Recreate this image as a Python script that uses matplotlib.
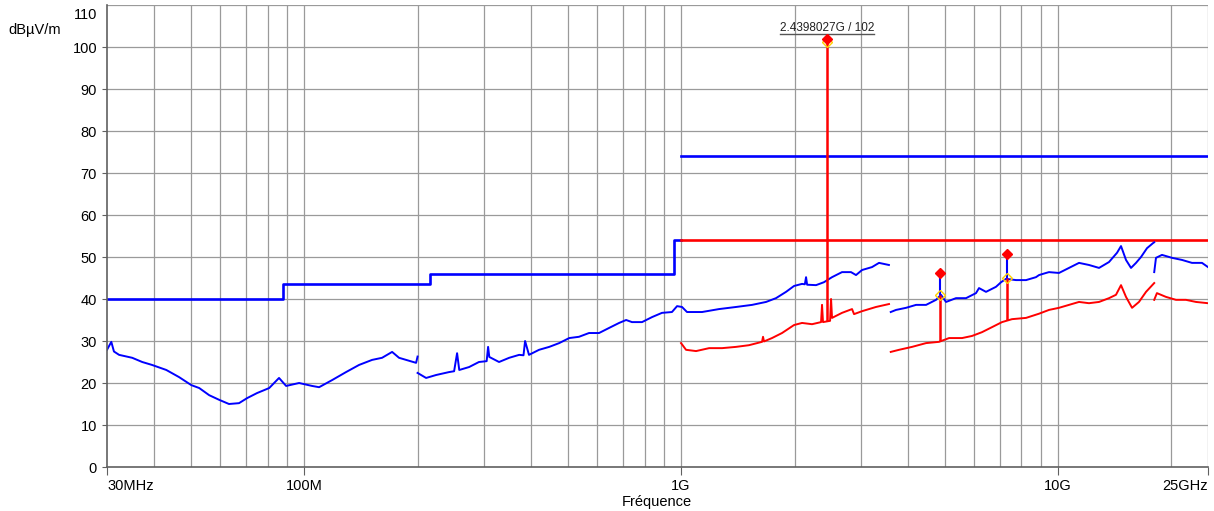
import matplotlib.pyplot as plt

plt.rcParams['font.family'] = ['Liberation Sans', 'DejaVu Sans']

# limites (MHz, dBuV/m)
lim_qp_f = [30, 88, 216, 960, 1000]
lim_qp_v = [40, 43.5, 46, 54, 54]
lim_pk_f = [1000, 25000]
lim_pk_v = [74, 74]
lim_av_f = [1000, 25000]
lim_av_v = [54, 54]

# trace crete (bleu), une liste par bande
pk1_f = [30.0, 30.8, 31.3, 32.3, 35.0, 37.2, 39.5, 43.1, 46.6, 50.2, 52.7, 56.0, 59.5, 63.2, 67.2,
         70.6, 75.0, 80.8, 85.8, 89.6, 97.0, 105, 109.6, 118.7, 129.2, 139.9, 151.5, 161, 171.2,
         178.6, 186.5, 198.2, 200]
pk1_v = [27.9, 29.8, 27.5, 26.7, 26.0, 25.0, 24.3, 23.1, 21.4, 19.5, 18.8, 17.1, 16.0, 15.0, 15.2,
         16.4, 17.6, 18.8, 21.2, 19.3, 20.0, 19.3, 19.0, 20.7, 22.6, 24.3, 25.5, 26.0, 27.4,
         26.0, 25.5, 24.8, 26.3]
pk2_f = [200, 210.7, 223.9, 242.4, 250, 254.6, 258, 274, 291, 305, 307.7, 310, 329, 350, 372,
         382, 385.7, 395, 420, 447, 475, 505, 536, 570, 606, 644, 685, 715, 741, 788,
         838, 890, 946, 976, 1006, 1037, 1096, 1137, 1261, 1399, 1543, 1681, 1786, 1899, 1994,
         2094, 2130, 2146, 2160, 2281, 2394, 2515, 2673, 2824, 2912, 3021, 3211, 3351, 3560]
pk2_v = [22.4, 21.2, 21.9, 22.6, 22.8, 27.1, 23.1, 23.8, 25.0, 25.2, 28.6, 26.2, 25.0, 26.0, 26.7,
         26.6, 30.0, 26.7, 27.9, 28.6, 29.5, 30.7, 31.0, 31.9, 31.9, 33.1, 34.3, 35.0, 34.5, 34.5,
         35.7, 36.7, 36.9, 38.3, 38.1, 36.9, 36.9, 36.9, 37.6, 38.1, 38.6, 39.3, 40.2, 41.7, 43.1,
         43.6, 43.5, 45.2, 43.4, 43.3, 44.0, 45.2, 46.4, 46.4, 45.7, 46.9, 47.6, 48.6, 48.1]
pk3_f = [3600, 3718, 3953, 4202, 4467, 4747, 4894, 5046, 5363, 5702, 6060, 6173, 6442, 6847, 7063,
         7280, 7738, 8226, 8742, 8906, 9294, 9465, 10060, 10695, 11370, 12085, 12850, 13655,
         14340, 14695, 15150, 15620, 16105, 16605, 17225, 17865, 18000]
pk3_v = [36.9, 37.4, 37.9, 38.6, 38.6, 39.8, 41.0, 39.3, 40.2, 40.2, 41.4, 42.6, 41.7, 42.9, 44.0,
         44.8, 44.5, 44.5, 45.2, 45.7, 46.2, 46.4, 46.2, 47.4, 48.6, 48.1, 47.4, 48.8,
         51.0, 52.6, 49.3, 47.4, 48.6, 50.0, 52.1, 53.3, 53.5]
pk4_f = [18000, 18195, 18875, 20065, 21330, 22670, 24100, 25000]
pk4_v = [46.4, 49.8, 50.5, 49.8, 49.3, 48.6, 48.6, 47.6]

# trace moyenne (rouge)
av1_f = [1000, 1031, 1096, 1187, 1285, 1399, 1514, 1640, 1650, 1660, 1743, 1853, 1994, 2094, 2226,
         2352, 2366, 2380, 2485, 2500, 2515, 2673, 2842, 2877, 3021, 3289, 3562]
av1_v = [29.5, 27.9, 27.6, 28.3, 28.3, 28.6, 29.0, 29.8, 31.0, 29.9, 30.7, 31.9, 33.8, 34.3, 34.0,
         34.5, 38.6, 34.5, 34.8, 40.0, 35.5, 36.7, 37.6, 36.4, 37.1, 38.1, 38.8]
av2_f = [3600, 3786, 4100, 4467, 4835, 5140, 5566, 5914, 6285, 6683, 7104, 7551, 8226, 8906, 9465,
         10060, 10695, 11370, 12085, 12850, 13655, 14250, 14695, 15150, 15720, 16400, 17120, 18000]
av2_v = [27.4, 27.9, 28.6, 29.5, 29.8, 30.7, 30.7, 31.2, 32.1, 33.3, 34.5, 35.2, 35.5, 36.5, 37.4,
         37.9, 38.6, 39.3, 39.0, 39.3, 40.2, 41.0, 43.3, 40.5, 37.9, 39.3, 41.7, 43.8]
av3_f = [18000, 18300, 19340, 20560, 21850, 23230, 25000]
av3_v = [39.8, 41.4, 40.5, 39.8, 39.8, 39.3, 39.0]

# marqueurs
mk_f = [2439.8027, 4864, 7322]
mk_pk = [102, 46.2, 50.7]
mk_av = [101.3, 41.0, 45.0]
mk_base = [34.7, 29.9, 35.0]

BLUE = '#0000ff'
RED = '#ff0000'
GRID = '#9a9a9a'

fig = plt.figure(figsize=(12.14, 5.11), dpi=100)
ax = fig.add_axes([107 / 1214, 44 / 511, 1101 / 1214, 462 / 511])
ax.set_xscale('log')
ax.set_xlim(30, 25000)
ax.set_ylim(0, 110)

# grille
minors = [m * 10 ** e for e in (1, 2, 3, 4) for m in range(2, 10) if 30 < m * 10 ** e < 25000]
for f in minors + [100, 1000, 10000, 25000]:
    ax.axvline(f, color=GRID, lw=0.9, zorder=0)
for v in range(10, 111, 10):
    ax.axhline(v, color=GRID, lw=0.9, zorder=0)

# limites
ax.plot(lim_qp_f, lim_qp_v, drawstyle='steps-post', color=BLUE, lw=1.9)
ax.plot(lim_pk_f, lim_pk_v, color=BLUE, lw=1.9)
ax.plot(lim_av_f, lim_av_v, color=RED, lw=1.9)

# traces
for f, v in [(pk1_f, pk1_v), (pk2_f, pk2_v), (pk3_f, pk3_v), (pk4_f, pk4_v)]:
    ax.plot(f, v, color=BLUE, lw=1.4)
for f, v in [(av1_f, av1_v), (av2_f, av2_v), (av3_f, av3_v)]:
    ax.plot(f, v, color=RED, lw=1.4)

# marqueurs
ax.vlines(mk_f, mk_av, mk_pk, color=BLUE, lw=1.5, zorder=4)
ax.vlines(mk_f, mk_base, mk_av, color=RED, lw=1.8, zorder=4)
ax.plot(mk_f, mk_av, 'D', mfc='none', mec='#ffd000', ms=5, mew=1, zorder=5)
ax.plot(mk_f, mk_pk, 'D', color=RED, ms=5.5, zorder=6)

txt = ax.text(mk_f[0], 103.7, f'{mk_f[0] / 1000:.7f}G / {mk_pk[0]:.0f}',
              ha='center', va='baseline', fontsize=8.5, color='#222222')
fig.canvas.draw()
bb = txt.get_window_extent()
inv = ax.transData.inverted()
x0 = inv.transform((bb.x0, 0))[0]
x1 = inv.transform((bb.x1, 0))[0]
ax.plot([x0, x1], [103.2, 103.2], color='#555555', lw=1)

# axes
for s in ['top', 'right']:
    ax.spines[s].set_visible(False)
for s in ['left', 'bottom']:
    ax.spines[s].set_color('#606060')
    ax.spines[s].set_linewidth(1.2)

ax.set_yticks(range(0, 101, 10))
ax.tick_params(axis='y', length=3.6, pad=3.6, colors='#606060', labelcolor='black', labelsize=10.5)
ax.set_xticks([30, 100, 1000, 10000, 25000], ['30MHz', '100M', '1G', '10G', '25GHz'])
ax.set_xticks([], minor=True)
ax.tick_params(axis='x', length=5.8, pad=2.8, colors='#606060', labelcolor='black', labelsize=10.5)
labels = ax.get_xticklabels()
labels[0].set_ha('left')
labels[-1].set_ha('right')

ax.annotate('110', xy=(0, 110), xycoords=('axes fraction', 'data'), xytext=(-10, -10),
            textcoords='offset pixels', ha='right', va='center', fontsize=10.5)
fig.text(8 / 1214, 1 - 30 / 511, 'dBµV/m', ha='left', va='center', fontsize=10.5)
fig.text(657 / 1214, 1 - 502 / 511, 'Fréquence', ha='center', va='center', fontsize=10.5)

fig.savefig('out.png', dpi=100)
